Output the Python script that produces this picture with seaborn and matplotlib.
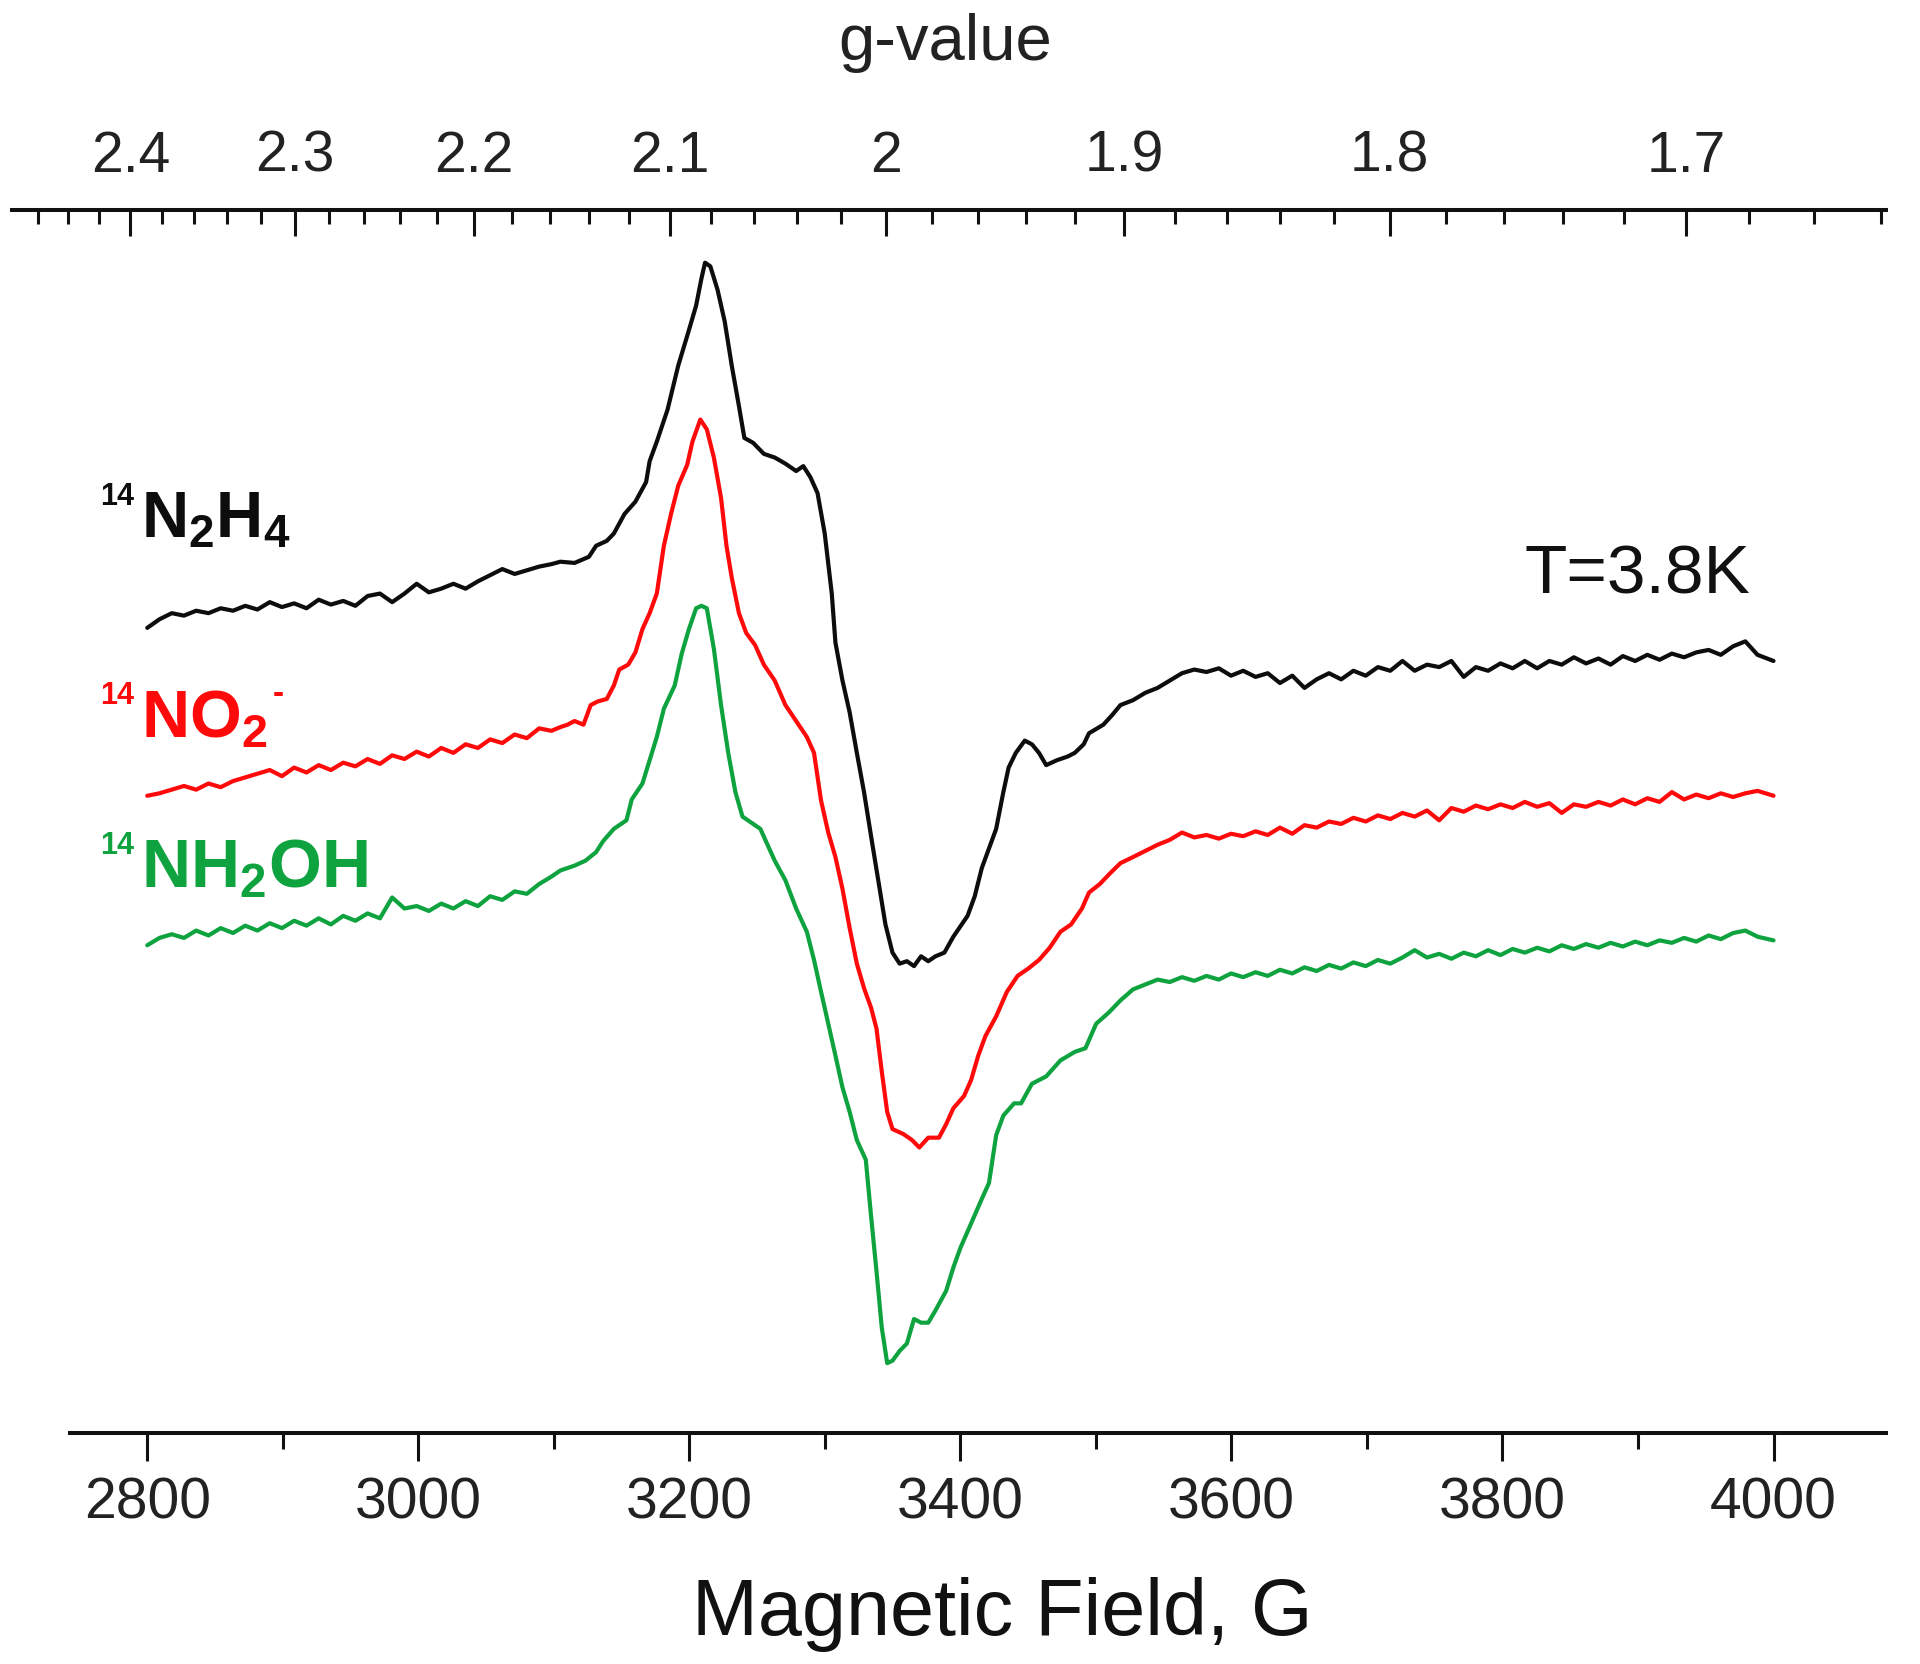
import numpy as np
import pandas as pd
import matplotlib
matplotlib.use("Agg")
import matplotlib.pyplot as plt
import seaborn as sns

# ---------------- data (field in G, signal in arbitrary units) ----------------
field_left = [2800.0, 2809.0, 2818.1, 2827.1, 2836.1, 2845.2, 2854.2, 2863.3, 2872.3, 2881.3,
              2890.4, 2899.4, 2908.4, 2917.5, 2926.5, 2935.5, 2944.6, 2953.6, 2962.6, 2971.7,
              2980.7, 2989.8, 2998.8, 3007.8, 3016.9, 3025.9, 3034.9, 3044.0, 3053.0, 3062.0,
              3071.1, 3080.1, 3089.2, 3098.2]
field_right = [3527.4, 3536.4, 3545.5, 3554.5, 3563.5, 3572.6, 3581.6, 3590.7, 3599.7, 3608.7,
               3617.8, 3626.8, 3635.8, 3644.9, 3653.9, 3662.9, 3672.0, 3681.0, 3690.0, 3699.1,
               3708.1, 3717.2, 3726.2, 3735.2, 3744.3, 3753.3, 3762.3, 3771.4, 3780.4, 3789.4,
               3798.5, 3807.5, 3816.5, 3825.6, 3834.6, 3843.7, 3852.7, 3861.7, 3870.8, 3879.8,
               3888.8, 3897.9, 3906.9, 3915.9, 3925.0, 3934.0, 3943.0, 3952.1, 3961.1, 3970.2,
               3979.2, 3988.2, 4000.0]

# 14N2H4 (black)
n2h4_left = [65.7, 66.4, 66.9, 66.7, 67.1, 66.9, 67.3, 67.1, 67.5, 67.2, 67.8, 67.4, 67.7, 67.3,
             68.0, 67.6, 67.9, 67.5, 68.3, 68.5, 67.8, 68.5, 69.3, 68.6, 68.9, 69.3, 68.9, 69.5,
             70.0, 70.5, 70.1, 70.4, 70.7, 70.9]
n2h4_mid_field = [3104.8, 3115.3, 3125.9, 3131.2, 3139.1, 3144.3, 3152.2, 3160.2, 3168.1, 3170.7,
                  3176.0, 3183.9, 3191.8, 3199.7, 3205.0, 3208.9, 3211.6, 3215.5, 3220.8, 3226.1,
                  3231.3, 3236.6, 3240.6, 3247.1, 3255.0, 3263.0, 3270.9, 3278.8, 3284.1, 3289.3,
                  3294.6, 3299.9, 3305.1, 3307.8, 3313.0, 3318.3, 3323.6, 3328.9, 3334.1, 3339.4,
                  3344.7, 3349.9, 3355.2, 3360.5, 3365.8, 3371.0, 3376.3, 3381.6, 3388.2, 3394.8,
                  3405.3, 3410.6, 3415.8, 3421.1, 3426.4, 3431.7, 3435.6, 3440.9, 3447.5, 3452.8,
                  3458.0, 3463.3, 3471.2, 3479.1, 3484.4, 3491.0, 3494.9, 3505.5, 3512.1, 3518.1]
n2h4_mid = [71.1, 71.0, 71.5, 72.4, 72.8, 73.4, 75.0, 76.0, 77.6, 79.3,
            80.9, 83.5, 87.1, 90.0, 92.0, 94.2, 95.5, 95.2, 93.3, 90.7,
            87.1, 83.8, 81.2, 80.8, 79.9, 79.6, 79.1, 78.5, 78.9, 78.0,
            76.7, 73.4, 68.5, 64.5, 61.4, 58.8, 55.5, 52.3, 48.7, 45.1,
            41.5, 39.2, 38.3, 38.5, 38.1, 38.9, 38.5, 38.9, 39.2, 40.5,
            42.2, 43.8, 46.1, 47.7, 49.3, 52.3, 54.3, 55.5, 56.5, 56.2,
            55.5, 54.5, 54.9, 55.2, 55.5, 56.2, 57.1, 57.8, 58.6, 59.4]
n2h4_right = [59.8, 60.4, 60.8, 61.4, 62.0, 62.3, 62.1, 62.4, 61.8, 62.2,
              61.7, 62.0, 61.2, 61.8, 60.8, 61.5, 62.0, 61.5, 62.2, 61.8,
              62.5, 62.2, 63.0, 62.2, 62.7, 62.5, 63.0, 61.7, 62.5, 62.2,
              62.8, 62.4, 63.0, 62.4, 63.0, 62.7, 63.3, 62.8, 63.2, 62.7,
              63.4, 63.0, 63.5, 63.1, 63.6, 63.3, 63.7, 63.9, 63.5, 64.2,
              64.6, 63.5, 63.0]

# 14NO2- (red)
no2_left = [52.0, 52.2, 52.5, 52.8, 52.5, 53.0, 52.7, 53.2, 53.5, 53.8, 54.1, 53.6, 54.3, 53.9,
            54.5, 54.1, 54.7, 54.4, 55.0, 54.6, 55.3, 55.0, 55.6, 55.2, 55.9, 55.5, 56.2, 55.9,
            56.6, 56.3, 57.0, 56.7, 57.5, 57.3]
no2_mid_field = [3104.8, 3110.1, 3115.3, 3121.9, 3127.2, 3132.5, 3139.1, 3144.3, 3148.3, 3154.9,
                 3160.2, 3165.4, 3170.7, 3176.0, 3181.2, 3186.5, 3191.8, 3198.4, 3202.3, 3208.1,
                 3212.9, 3218.1, 3223.4, 3227.4, 3231.3, 3236.6, 3241.9, 3248.5, 3255.0, 3263.0,
                 3270.9, 3278.8, 3286.7, 3292.0, 3297.2, 3302.5, 3307.8, 3313.0, 3318.3, 3323.6,
                 3328.9, 3334.1, 3338.1, 3342.0, 3346.0, 3349.9, 3357.9, 3364.4, 3369.7, 3376.3,
                 3384.2, 3389.5, 3394.8, 3402.7, 3407.9, 3413.2, 3418.5, 3426.4, 3434.3, 3442.2,
                 3450.1, 3458.0, 3465.9, 3473.8, 3481.7, 3489.7, 3494.9, 3502.9, 3510.7, 3518.1]
no2_mid = [57.6, 57.8, 58.1, 57.8, 59.4, 59.7, 59.9, 61.0, 62.3, 62.7,
           63.7, 65.6, 66.9, 68.5, 72.4, 75.0, 77.3, 79.0, 80.9, 82.7,
           81.9, 79.6, 76.3, 72.4, 69.8, 66.9, 65.3, 64.3, 62.7, 61.4,
           59.4, 58.1, 56.8, 55.5, 51.6, 49.0, 47.0, 44.4, 41.2, 38.3,
           36.3, 34.7, 33.0, 29.5, 26.2, 24.8, 24.4, 23.9, 23.3, 24.1,
           24.1, 25.2, 26.5, 27.5, 28.8, 30.8, 32.4, 34.0, 36.0, 37.3,
           37.9, 38.6, 39.6, 40.9, 41.5, 42.8, 44.1, 44.8, 45.7, 46.5]
no2_right = [47.0, 47.5, 48.0, 48.4, 49.0, 48.6, 48.8, 48.5, 48.9, 48.7,
             49.1, 48.8, 49.4, 48.9, 49.6, 49.4, 49.9, 49.7, 50.2, 49.9,
             50.4, 50.1, 50.6, 50.3, 50.8, 50.0, 51.0, 50.7, 51.2, 50.9,
             51.3, 51.0, 51.5, 51.1, 51.4, 50.6, 51.3, 51.1, 51.5, 51.2,
             51.7, 51.3, 51.8, 51.5, 52.3, 51.7, 52.1, 51.8, 52.2, 51.9,
             52.2, 52.4, 52.0]

# 14NH2OH (green)
nh2oh_left = [39.8, 40.4, 40.7, 40.4, 41.0, 40.6, 41.2, 40.8, 41.4, 41.0, 41.6, 41.2, 41.8, 41.4,
              42.0, 41.5, 42.2, 41.8, 42.4, 42.0, 43.7, 42.8, 43.0, 42.6, 43.2, 42.8, 43.4, 43.0,
              43.8, 43.5, 44.2, 44.0, 44.8, 45.4]
nh2oh_mid_field = [3104.8, 3115.3, 3123.3, 3131.2, 3136.4, 3144.3, 3153.6, 3157.5, 3165.4, 3170.7,
                   3176.0, 3181.2, 3189.2, 3194.4, 3199.7, 3205.0, 3208.9, 3212.9, 3218.1, 3223.4,
                   3228.7, 3234.0, 3239.2, 3247.1, 3252.4, 3257.7, 3263.0, 3270.9, 3278.8, 3286.7,
                   3292.0, 3297.2, 3302.5, 3307.8, 3313.0, 3318.3, 3323.6, 3330.2, 3334.1, 3338.1,
                   3342.0, 3346.0, 3349.9, 3355.2, 3360.5, 3365.8, 3371.0, 3376.3, 3381.6, 3389.5,
                   3394.8, 3400.0, 3407.9, 3415.8, 3421.1, 3426.4, 3431.7, 3439.6, 3444.8, 3452.8,
                   3463.3, 3473.8, 3484.4, 3492.3, 3500.2, 3509.4, 3518.1]
nh2oh_mid = [45.9, 46.3, 46.7, 47.4, 48.3, 49.3, 50.0, 51.7, 53.0, 54.9,
             56.8, 59.1, 61.0, 63.6, 65.6, 67.3, 67.5, 67.3, 64.0, 59.4,
             55.5, 52.3, 50.3, 49.7, 49.3, 48.0, 46.7, 45.1, 42.8, 40.9,
             38.6, 36.0, 33.4, 30.8, 28.2, 26.2, 23.9, 22.3, 17.7, 13.2,
             8.6, 5.7, 5.9, 6.7, 7.3, 9.3, 9.0, 9.0, 10.0, 11.6,
             13.5, 15.1, 17.1, 19.1, 20.4, 24.3, 25.9, 26.9, 26.9, 28.5,
             29.1, 30.4, 31.1, 31.4, 33.4, 34.3, 35.3]
nh2oh_right = [36.2, 36.6, 37.0, 36.8, 37.2, 36.9, 37.3, 37.0, 37.5, 37.2,
               37.6, 37.3, 37.8, 37.5, 38.0, 37.7, 38.2, 37.9, 38.4, 38.1,
               38.6, 38.3, 38.8, 39.4, 38.8, 39.1, 38.7, 39.2, 38.9, 39.4,
               39.0, 39.5, 39.2, 39.6, 39.3, 39.8, 39.5, 39.9, 39.6, 40.0,
               39.7, 40.1, 39.8, 40.2, 40.0, 40.4, 40.1, 40.6, 40.3, 40.8,
               41.0, 40.5, 40.2]

samples = ["14N2H4", "14NO2-", "14NH2OH"]
sample_colors = ["#0d0d0d", "#ff0a0a", "#0ea33f"]

g_major = [2.4, 2.3, 2.2, 2.1, 2.0, 1.9, 1.8, 1.7]
g_major_labels = ["2.4", "2.3", "2.2", "2.1", "2", "1.9", "1.8", "1.7"]
field_major = [2800, 3000, 3200, 3400, 3600, 3800, 4000]
field_minor = [2900, 3100, 3300, 3500, 3700, 3900]
g_times_field = 6690.0  # h*nu/beta in G (nu ~ 9.36 GHz)

# ---------------- build long table ----------------
frames = []
for name, mf, l, m, r in [
    (samples[0], n2h4_mid_field, n2h4_left, n2h4_mid, n2h4_right),
    (samples[1], no2_mid_field, no2_left, no2_mid, no2_right),
    (samples[2], nh2oh_mid_field, nh2oh_left, nh2oh_mid, nh2oh_right),
]:
    f = list(field_left) + list(mf) + list(field_right)
    s = list(l) + list(m) + list(r)
    frames.append(pd.DataFrame({"field": f, "signal": s, "sample": name}))
df = pd.concat(frames, ignore_index=True)

# ---------------- style ----------------
sns.set_theme(style="white")
plt.rcParams["font.family"] = ["Liberation Sans", "DejaVu Sans"]
plt.rcParams["mathtext.fontset"] = "custom"
plt.rcParams["mathtext.rm"] = "Liberation Sans"
plt.rcParams["mathtext.bf"] = "Liberation Sans:bold"
plt.rcParams["mathtext.it"] = "Liberation Sans:italic"

W, H = 1920, 1664
fig = plt.figure(figsize=(W / 100, H / 100), dpi=100)
fig.patch.set_facecolor("white")
L, R, T, B = 70, 1886, 210, 1433
ax = fig.add_axes([L / W, 1 - B / H, (R - L) / W, (B - T) / H])
ax_top = fig.add_axes([12 / W, 1 - B / H, (R - 12) / W, (B - T) / H], facecolor="none")

sns.lineplot(data=df, x="field", y="signal", hue="sample", palette=dict(zip(samples, sample_colors)),
             estimator=None, sort=False, legend=False, linewidth=3.0, ax=ax)
for ln in ax.lines:
    ln.set_solid_joinstyle("round")
    ln.set_solid_capstyle("round")

ax.set_xlim(2743, 4083)
ax.set_ylim(0, 99.8)
ax.set_yticks([])
ax.set_xlabel("")
ax.set_ylabel("")
for sp in ["top", "left", "right"]:
    ax.spines[sp].set_visible(False)
ax.spines["bottom"].set_linewidth(2.9)
ax.spines["bottom"].set_color("#111111")
ax.set_xticks(field_major)
ax.set_xticklabels([str(v) for v in field_major])
ax.set_xticks(field_minor, minor=True)
ax.tick_params(axis="x", which="major", direction="out", length=20, width=2.2, color="#111111",
               labelsize=41, labelcolor="#222222", pad=11, bottom=True, top=False)
ax.tick_params(axis="x", which="minor", direction="out", length=11.5, width=2.2, color="#111111",
               bottom=True, top=False)

# top g-value axis
ax_top.set_xlim(g_times_field / 2.4776, 4083)
ax_top.set_ylim(0, 1)
ax_top.set_yticks([])
for sp in ["bottom", "left", "right"]:
    ax_top.spines[sp].set_visible(False)
ax_top.spines["top"].set_linewidth(2.9)
ax_top.spines["top"].set_color("#111111")
ax_top.xaxis.tick_top()
ax_top.set_xticks([g_times_field / g for g in g_major])
ax_top.set_xticklabels(g_major_labels)
g_minor = [v / 100 for v in range(164, 248, 2) if v % 10 != 0]
ax_top.set_xticks([g_times_field / g for g in g_minor], minor=True)
ax_top.tick_params(axis="x", which="major", direction="in", length=19, width=2.2, color="#111111",
                   labelsize=41, labelcolor="#222222", pad=19, top=True, bottom=False,
                   labeltop=True, labelbottom=False)
ax_top.tick_params(axis="x", which="minor", direction="in", length=10, width=2.2, color="#111111",
                   top=True, bottom=False)

# ---------------- texts ----------------
def fx(px):
    return px / W

def fy(py):
    return 1 - py / H

fig.text(fx(945), fy(60), "g-value", ha="center", va="baseline", fontsize=47, color="#222222")
fig.text(fx(1002), fy(1635), "Magnetic Field, G", ha="center", va="baseline", fontsize=57,
         color="#111111")
fig.text(fx(1525), fy(593), "T=3.8K", ha="left", va="baseline", fontsize=50, color="#111111")

labels = [r"$\mathbf{N_2H_4}$", r"$\mathbf{NO_2}$", r"$\mathbf{NH_2OH}$"]
label_sizes = [47, 48, 49]
baselines = [538, 737, 887]
for lab, size, base, col in zip(labels, label_sizes, baselines, sample_colors):
    fig.text(fx(100), fy(base - 33), "14", ha="left", va="baseline", fontsize=22,
             fontweight="bold", color=col)
    fig.text(fx(141), fy(base), lab, ha="left", va="baseline", fontsize=size, color=col)
# nitrite charge sign
fig.text(fx(273), fy(703), "-", ha="left", va="baseline", fontsize=24, fontweight="bold",
         color=sample_colors[1])

fig.savefig("out.png", dpi=100, facecolor="white")
